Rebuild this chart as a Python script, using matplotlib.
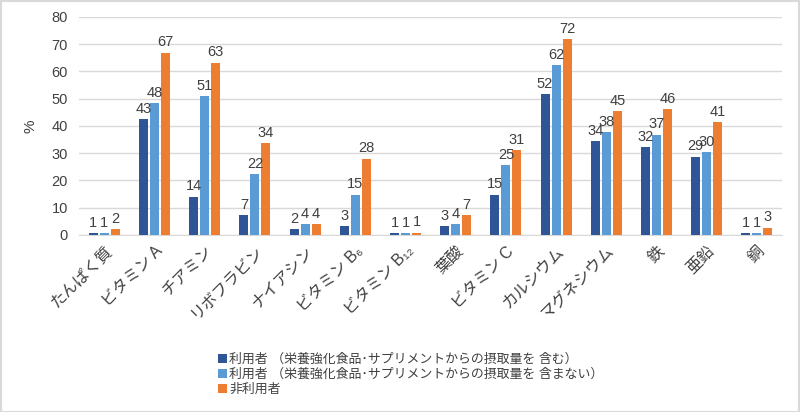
import matplotlib
matplotlib.use("Agg")
import matplotlib.pyplot as plt
import numpy as np
from matplotlib.patches import Rectangle

plt.rcParams['font.family'] = ['Liberation Sans', 'Noto Sans CJK JP', 'DejaVu Sans']

categories = ["たんぱく質", "ビタミン A", "チアミン", "リボフラビン", "ナイアシン",
              "ビタミン B₆", "ビタミン B₁₂", "葉酸", "ビタミン C", "カルシウム",
              "マグネシウム", "鉄", "亜鉛", "銅"]
users_incl = [0.6, 42.6, 14.0, 7.3, 2.2, 3.1, 0.6, 3.1, 14.8, 51.6, 34.5, 32.2, 28.7, 0.6]
users_excl = [0.6, 48.4, 50.8, 22.2, 3.9, 14.8, 0.6, 3.8, 25.5, 62.2, 37.6, 36.8, 30.4, 0.6]
non_users = [2.0, 66.9, 63.2, 33.7, 3.9, 28.0, 0.8, 7.2, 31.2, 71.8, 45.3, 46.2, 41.5, 2.6]
labels_incl = [1, 43, 14, 7, 2, 3, 1, 3, 15, 52, 34, 32, 29, 1]
labels_excl = [1, 48, 51, 22, 4, 15, 1, 4, 25, 62, 38, 37, 30, 1]
labels_non = [2, 67, 63, 34, 4, 28, 1, 7, 31, 72, 45, 46, 41, 3]
series_names = ["利用者 （栄養強化食品･サプリメントからの摂取量を 含む）",
                "利用者 （栄養強化食品･サプリメントからの摂取量を 含まない）",
                "非利用者"]
colors = ["#2F5597", "#5B9BD5", "#ED7D31"]
yticks = [0, 10, 20, 30, 40, 50, 60, 70, 80]

fig = plt.figure(figsize=(8.0, 4.12), dpi=100)
ax = fig.add_axes([0.099, 0.430, 0.8785, 0.529])

x = np.arange(len(categories))
w = 0.18
offs = [-0.22, 0.0, 0.22]
for vals, labs, c, o, n in zip([users_incl, users_excl, non_users],
                               [labels_incl, labels_excl, labels_non],
                               colors, offs, series_names):
    bars = ax.bar(x + o, vals, width=w, color=c, label=n, zorder=3)
    for b, l in zip(bars, labs):
        ax.text(b.get_x() + b.get_width() / 2, b.get_height() + 1.2, str(l),
                ha='center', va='bottom', fontsize=10.5, color='#404040', zorder=4)

ax.set_xlim(-0.5, len(categories) - 0.5)
ax.set_ylim(0, 80)
ax.set_yticks(yticks)
ax.yaxis.grid(True, color='#D9D9D9', linewidth=1, zorder=0)
for s in ['top', 'right', 'left']:
    ax.spines[s].set_visible(False)
ax.spines['bottom'].set_color('#D9D9D9')
ax.tick_params(axis='both', length=0, labelsize=10.5, colors='#404040', pad=8)
ax.set_xticks(x)
ax.set_xticklabels(categories, rotation=45, ha='right', rotation_mode='anchor',
                   fontsize=11.5, color='#404040')
ax.tick_params(axis='x', pad=6)
ax.set_ylabel('%', fontsize=11, color='#404040', labelpad=10)

leg = fig.legend(loc='upper left', bbox_to_anchor=(0.272, 0.142), frameon=False,
                 fontsize=9.3, handlelength=0.7, handleheight=0.7, handletextpad=0.2,
                 labelspacing=0.2, borderpad=0, borderaxespad=0)
for t in leg.get_texts():
    t.set_color('#404040')

fig.patches.append(Rectangle((0.001, 0.001), 0.998, 0.997, transform=fig.transFigure,
                             fill=False, edgecolor='#D9D9D9', linewidth=1.5))

fig.savefig('out.png', dpi=100)
